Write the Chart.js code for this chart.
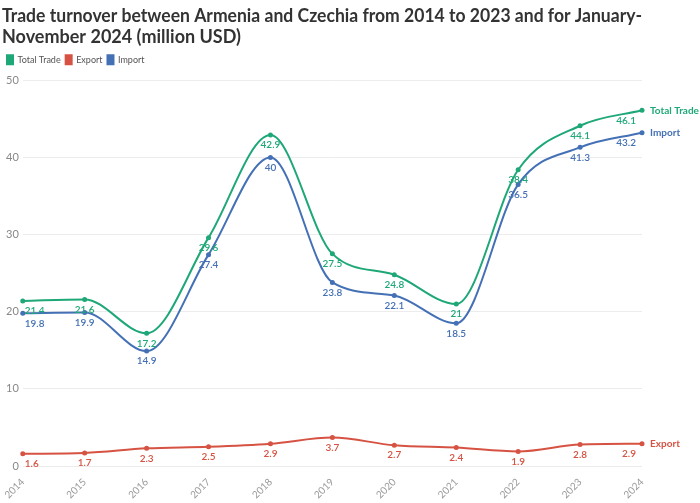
<!DOCTYPE html>
<html>
<head>
<meta charset="utf-8">
<script src="https://cdn.jsdelivr.net/npm/chart.js@4"></script>
<style>
  html, body { margin: 0; padding: 0; background: #fff; }
  #wrap { width: 700px; height: 503px; }
</style>
</head>
<body>
<div id="wrap"><canvas id="tradeChart"></canvas></div>
<script>
const years = ["2014", "2015", "2016", "2017", "2018", "2019", "2020", "2021", "2022", "2023", "2024"];
const totalTrade = [21.4, 21.6, 17.2, 29.6, 42.9, 27.5, 24.8, 21, 38.4, 44.1, 46.1];
const exportVals = [1.6, 1.7, 2.3, 2.5, 2.9, 3.7, 2.7, 2.4, 1.9, 2.8, 2.9];
const importVals = [19.8, 19.9, 14.9, 27.4, 40, 23.8, 22.1, 18.5, 36.5, 41.3, 43.2];
const yTicks = [0, 10, 20, 30, 40, 50];

const GREEN = "#1fa877";
const RED = "#d65242";
const BLUE = "#4470b5";

// extra space below the legend
const legendGap = {
  id: "legendGap",
  beforeInit(chart) {
    const fit = chart.legend.fit;
    chart.legend.fit = function () {
      fit.call(this);
      this.height += 6;
    };
  }
};

// labels under each point + series name at the line end
const pointLabels = {
  id: "pointLabels",
  afterDatasetsDraw(chart) {
    const ctx = chart.ctx;
    const area = chart.chartArea;
    ctx.save();
    chart.data.datasets.forEach((ds, i) => {
      const meta = chart.getDatasetMeta(i);
      ctx.fillStyle = ds.borderColor;
      ctx.font = "600 10px Lato";
      ctx.textBaseline = "top";
      ctx.textAlign = "center";
      meta.data.forEach((pt, j) => {
        const txt = String(ds.data[j]);
        const w = ctx.measureText(txt).width;
        let x = pt.x;
        if (x - w / 2 < area.left) x = area.left + w / 2 + 2;
        if (x + w / 2 > area.right) x = area.right - w / 2 - 6;
        ctx.fillText(txt, x, pt.y + 5);
      });
      const last = meta.data[meta.data.length - 1];
      ctx.font = "bold 10px Lato";
      ctx.textAlign = "left";
      ctx.textBaseline = "middle";
      ctx.fillText(ds.label, last.x + 8, last.y);
    });
    ctx.restore();
  }
};

new Chart(document.getElementById("tradeChart"), {
  type: "line",
  data: {
    labels: years,
    datasets: [
      { label: "Total Trade", data: totalTrade, borderColor: GREEN, backgroundColor: GREEN },
      { label: "Export", data: exportVals, borderColor: RED, backgroundColor: RED },
      { label: "Import", data: importVals, borderColor: BLUE, backgroundColor: BLUE }
    ]
  },
  options: {
    responsive: true,
    maintainAspectRatio: false,
    animation: false,
    layout: { padding: { left: 2, right: 58, top: 3, bottom: 0 } },
    elements: {
      line: { borderWidth: 2, cubicInterpolationMode: "monotone" },
      point: { radius: 2.5, borderWidth: 0, hoverRadius: 3 }
    },
    plugins: {
      title: {
        display: true,
        align: "start",
        text: ["Trade turnover between Armenia and Czechia from 2014 to 2023 and for January-", "November 2024 (million USD)"],
        color: "#333",
        font: { family: "Lato", size: 18, weight: "bold", lineHeight: 1.2 },
        padding: { top: 2, bottom: 2 }
      },
      legend: {
        align: "start",
        labels: {
          boxWidth: 6,
          boxHeight: 9,
          padding: 5,
          color: "#555",
          font: { family: "Lato", size: 9 }
        }
      },
      tooltip: { enabled: false }
    },
    scales: {
      x: {
        offset: false,
        grid: { display: false },
        border: { display: false },
        ticks: {
          color: "#999",
          font: { family: "Lato", size: 10 },
          maxRotation: 45,
          minRotation: 45,
          padding: 2
        }
      },
      y: {
        min: 0,
        max: 50,
        afterBuildTicks(axis) { axis.ticks = yTicks.map(v => ({ value: v })); },
        grid: { color: "#ececec", drawTicks: false },
        border: { display: false },
        ticks: {
          color: "#888",
          font: { family: "Lato", size: 11 },
          padding: 4
        }
      }
    }
  },
  plugins: [legendGap, pointLabels]
});
</script>
</body>
</html>
